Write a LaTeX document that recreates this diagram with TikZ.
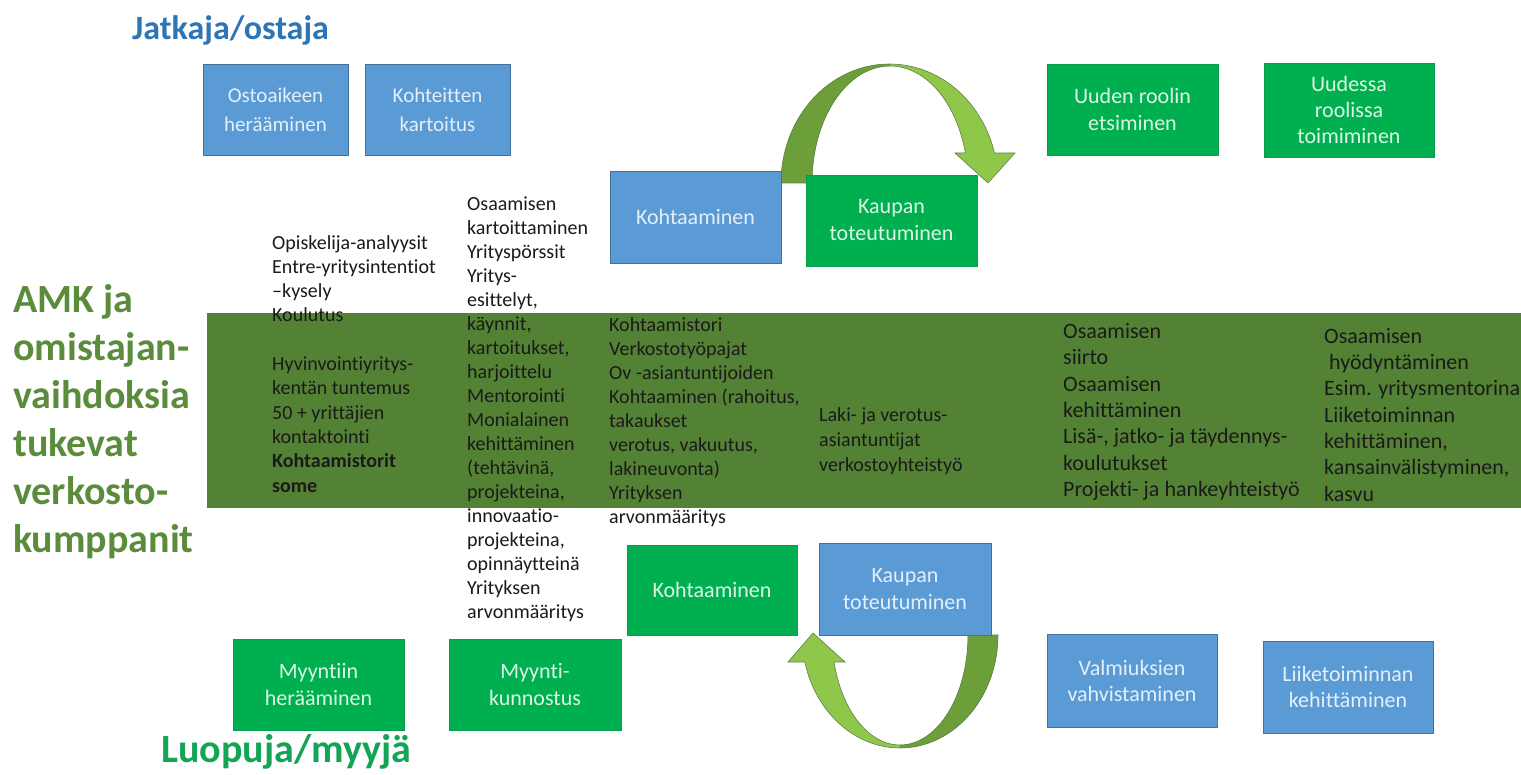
\documentclass[tikz,border=0pt]{standalone}
\usepackage{fontspec}
\setmainfont{Carlito}[Ligatures=NoCommon]
\definecolor{bxblue}{HTML}{5B9BD5}
\definecolor{bxblueE}{HTML}{41719C}
\definecolor{bxgreen}{HTML}{00B050}
\definecolor{bxgreenE}{HTML}{0E9A4C}
\definecolor{bandgreen}{HTML}{548235}
\definecolor{ttlblue}{HTML}{2E75B6}
\definecolor{ttlgreen}{HTML}{5A8C3C}
\definecolor{ttlgreentwo}{HTML}{14A456}
\definecolor{arrlight}{HTML}{8FC74A}
\definecolor{arrdark}{HTML}{6C9F3A}
\definecolor{arredge}{HTML}{5F7F4A}
\definecolor{txtblue}{HTML}{E4EFFA}
\definecolor{txtgreen}{HTML}{DCF6E4}
\definecolor{bodytxt}{HTML}{1A1A1A}
\newcommand\toparrowshape{plot[domain=180:14.6,samples=60] ({889.5+108.5*cos(\x)},{183-119*sin(\x)}) -- (1015,153) -- (988,183) -- (955,153) -- plot[domain=14.9:180,samples=60] ({890+78*cos(\x)},{183-117*sin(\x)}) -- cycle}
\newcommand\botarrowshape{plot[domain=0:166.2,samples=60] ({900+98*cos(\x)},{635+113*sin(\x)}) -- (788,662) -- (813,633) -- (845,662) -- plot[domain=165.8:0,samples=60] ({900+68*cos(\x)},{635+110*sin(\x)}) -- cycle}
\begin{document}
\begin{tikzpicture}[x=1pt,y=-1pt,
  bbox/.style={draw=bxblueE, line width=0.8pt, fill=bxblue, text=txtblue, inner sep=0pt, align=center, font=\fontsize{22}{27}\selectfont},
  gbox/.style={draw=bxgreenE, line width=0.6pt, fill=bxgreen, text=txtgreen, inner sep=0pt, align=center, font=\fontsize{22}{27}\selectfont},
  smallbox/.style={font=\fontsize{21}{29}\selectfont},
  coltext/.style={anchor=north west, inner sep=0pt, align=left, text=bodytxt, font=\fontsize{20}{24}\selectfont},
  coltextL/.style={coltext, font=\fontsize{22}{26.4}\selectfont},
  arrowedge/.style={draw=arredge, line width=0.6pt}
]
\useasboundingbox (0,0) rectangle (1521,775);
\fill[white] (0,0) rectangle (1521,775);

% band
\fill[bandgreen] (207,313) rectangle (1521,508);

% titles
\node[anchor=west, inner sep=0pt, text=ttlblue, font=\bfseries\fontsize{34}{40}\selectfont] (tj) at (132,30) {Jatkaja/ostaja};
\node[anchor=west, inner sep=0pt, text=ttlgreentwo, font=\bfseries\fontsize{40}{48}\selectfont] (tl) at (161,752) {Luopuja/myyjä};
\node[anchor=north west, inner sep=0pt, align=left, text=ttlgreen, font=\bfseries\fontsize{40}{48}\selectfont] (amk) at (13,284) {AMK ja\\omistajan-\\vaihdoksia\\tukevat\\verkosto-\\kumppanit};

% curved arrows
\fill[arrlight] \toparrowshape;
\begin{scope}
  \clip (0,0) rectangle (890,775);
  \fill[arrdark] \toparrowshape;
\end{scope}
\path[arrowedge] \toparrowshape;

\fill[arrlight] \botarrowshape;
\begin{scope}
  \clip (900,0) rectangle (1521,775);
  \fill[arrdark] \botarrowshape;
\end{scope}
\path[arrowedge] \botarrowshape;

% top row boxes
\node[bbox, smallbox, minimum width=145, minimum height=91] (ost) at (275.5,109.5) {Ostoaikeen\\herääminen};
\node[bbox, smallbox, minimum width=145, minimum height=91] (kah) at (437.5,109.5) {Kohteitten\\kartoitus};
\node[bbox, minimum width=171, minimum height=92] (kt) at (695.5,217) {Kohtaaminen};
\node[gbox, minimum width=171, minimum height=91] (kpt) at (891.5,220.5) {Kaupan\\toteutuminen};
\node[gbox, minimum width=171, minimum height=91] (ur) at (1132.5,109.5) {Uuden roolin\\etsiminen};
\node[gbox, minimum width=170, minimum height=94, font=\fontsize{22}{26}\selectfont] (ut) at (1349,110) {Uudessa\\roolissa\\toimiminen};

% bottom row boxes
\node[gbox, minimum width=170, minimum height=90] (kb) at (712,590) {Kohtaaminen};
\node[bbox, minimum width=172, minimum height=92] (kpb) at (905,589) {Kaupan\\toteutuminen};
\node[gbox, minimum width=171, minimum height=91] (my) at (318.5,684.5) {Myyntiin\\herääminen};
\node[gbox, minimum width=172, minimum height=91] (mk) at (535,684.5) {Myynti-\\kunnostus};
\node[bbox, minimum width=170, minimum height=93, font=\fontsize{22}{26}\selectfont] (va) at (1132,680.5) {Valmiuksien\\vahvistaminen};
\node[bbox, minimum width=170, minimum height=92, font=\fontsize{22}{26}\selectfont] (lk) at (1348,687) {Liiketoiminnan\\kehittäminen};

% column texts
\node[coltext, font=\fontsize{20}{24.3}\selectfont] (c1) at (272,235) {Opiskelija-analyysit\\Entre-yritysintentiot\\–kysely\\Koulutus\\[24.3pt]Hyvinvointiyritys-\\kentän tuntemus\\50 + yrittäjien\\kontaktointi\\\textbf{Kohtaamistorit}\\\textbf{some}};
\node[coltext] (c2) at (467,197) {Osaamisen\\kartoittaminen\\Yrityspörssit\\Yritys-\\esittelyt,\\käynnit,\\kartoitukset,\\harjoittelu\\Mentorointi\\Monialainen\\kehittäminen\\(tehtävinä,\\projekteina,\\innovaatio-\\projekteina,\\opinnäytteinä\\Yrityksen\\arvonmääritys};
\node[coltext] (c3) at (609,317) {Kohtaamistori\\Verkostotyöpajat\\Ov -asiantuntijoiden\\Kohtaaminen (rahoitus,\\takaukset\\verotus, vakuutus,\\lakineuvonta)\\Yrityksen\\arvonmääritys};
\node[coltext, font=\fontsize{20}{25}\selectfont] (c4) at (819,407) {Laki- ja verotus-\\asiantuntijat\\verkostoyhteistyö};
\node[coltextL] (c5) at (1063,323) {Osaamisen\\siirto\\Osaamisen\\kehittäminen\\Lisä-, jatko- ja täydennys-\\koulutukset\\Projekti- ja hankeyhteistyö};
\node[coltextL, font=\fontsize{22}{26.3}\selectfont] (c6) at (1324,328) {Osaamisen\\\hspace*{5pt}hyödyntäminen\\Esim. yritysmentorina\\Liiketoiminnan\\kehittäminen,\\kansainvälistyminen,\\kasvu};
\end{tikzpicture}
\end{document}
